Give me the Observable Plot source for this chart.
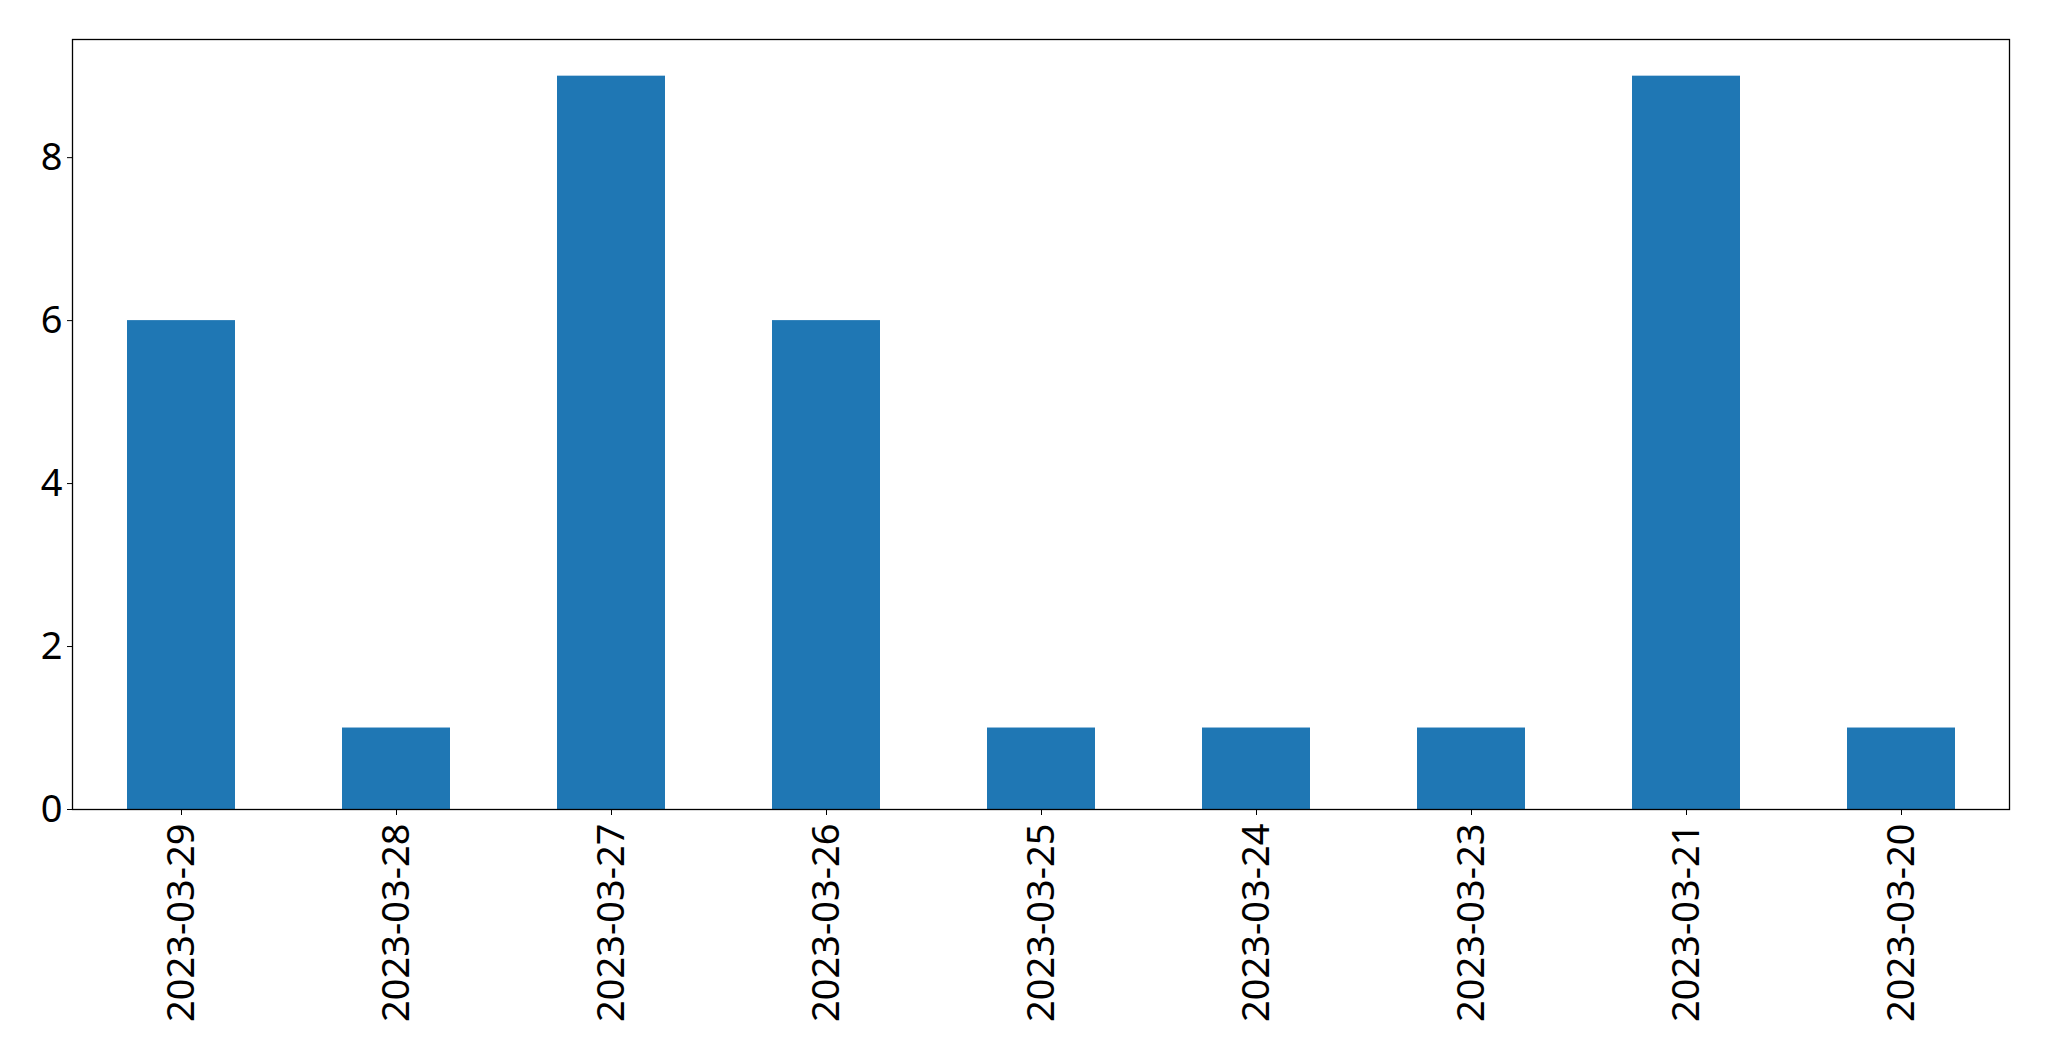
<!DOCTYPE html>
<html>
<head>
<meta charset="utf-8">
<script src="https://cdn.jsdelivr.net/npm/d3@7"></script>
<script src="https://cdn.jsdelivr.net/npm/@observablehq/plot@0.6"></script>
<style>
  html, body { margin: 0; padding: 0; background: #fff; }
  #chart svg { display: block; }
</style>
</head>
<body>
<div id="chart"></div>
<script>
const dates = ["2023-03-29", "2023-03-28", "2023-03-27", "2023-03-26", "2023-03-25", "2023-03-24", "2023-03-23", "2023-03-21", "2023-03-20"];
const counts = [6, 1, 9, 6, 1, 1, 1, 9, 1];
const yTicks = [0, 2, 4, 6, 8];

const data = dates.map((d, i) => ({date: d, count: counts[i]}));

const chart = Plot.plot({
  width: 2049,
  height: 1061,
  marginLeft: 72,
  marginRight: 40,
  marginTop: 39,
  marginBottom: 252,
  style: {fontFamily: "'Noto Sans', 'Open Sans', sans-serif", fontSize: "38px", color: "#000", background: "#fff"},
  x: {domain: dates, paddingInner: 0.5, paddingOuter: 0.25, label: null},
  y: {domain: [0, 9.45], label: null},
  marks: [
    Plot.barY(data, {x: "date", y: "count", fill: "#1f77b4"}),
    Plot.axisY({ticks: yTicks, tickSize: 5, tickPadding: 5, fontSize: 38, label: null, stroke: "#000"}),
    Plot.axisX({tickSize: 6, tickPadding: 8, tickRotate: -90, fontSize: 38, label: null, stroke: "#000"}),
    Plot.frame({stroke: "#000", strokeWidth: 1.3})
  ]
});
document.getElementById("chart").appendChild(chart);
</script>
</body>
</html>
